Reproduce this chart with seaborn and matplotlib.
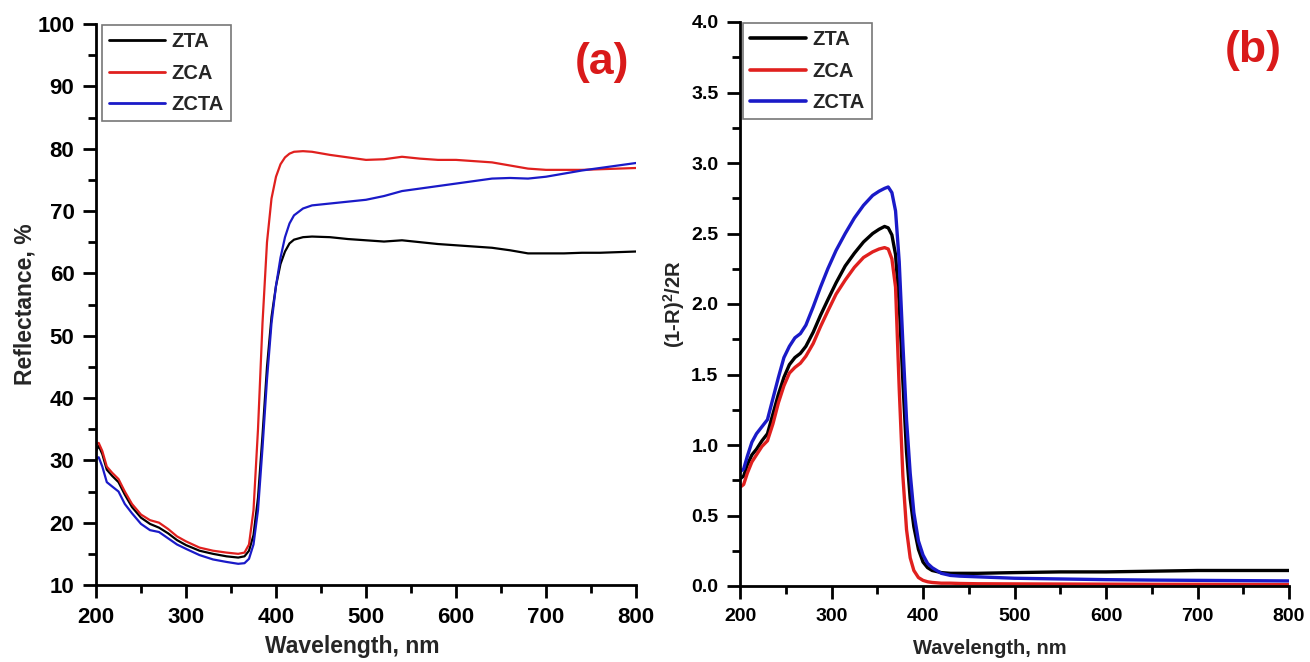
import numpy as np
import pandas as pd
import matplotlib
matplotlib.use("Agg")
import matplotlib.pyplot as plt
from matplotlib.ticker import MultipleLocator, FormatStrFormatter
import seaborn as sns

# ---------------- data (a) reflectance ----------------
wl_a = [200, 203, 207, 212, 218, 225, 232, 240, 250, 260, 270, 280, 290, 300, 315, 330, 345, 358, 365,
        370, 375, 380, 385, 390, 395, 400, 405, 410, 415, 420, 430, 440, 460, 480, 500, 520, 540, 560,
        580, 600, 620, 640, 660, 680, 700, 720, 740, 760, 780, 800]
zta_a = [31.5, 32.3, 31.0, 28.5, 27.5, 26.5, 24.5, 22.5, 20.8, 19.8, 19.2, 18.3, 17.2, 16.4, 15.5, 15.0,
         14.6, 14.4, 14.6, 15.5, 18.0, 24.0, 34.0, 45.0, 53.0, 58.0, 61.5, 63.5, 64.8, 65.4, 65.8, 65.9,
         65.8, 65.5, 65.3, 65.1, 65.3, 65.0, 64.7, 64.5, 64.3, 64.1, 63.7, 63.2, 63.2, 63.2, 63.3, 63.3,
         63.4, 63.5]
zca_a = [32.5, 32.8, 31.5, 29.0, 28.0, 27.0, 25.0, 23.0, 21.3, 20.4, 20.0, 19.0, 17.8, 17.0, 16.0, 15.5,
         15.2, 15.0, 15.2, 16.5, 22.0, 35.0, 52.0, 65.0, 72.0, 75.5, 77.5, 78.6, 79.2, 79.5, 79.6, 79.5,
         79.0, 78.6, 78.2, 78.3, 78.7, 78.4, 78.2, 78.2, 78.0, 77.8, 77.3, 76.8, 76.6, 76.6, 76.6, 76.7,
         76.8, 76.9]
zcta_a = [30.2, 30.5, 29.0, 26.5, 25.8, 25.0, 23.0, 21.5, 19.8, 18.8, 18.5, 17.5, 16.5, 15.8, 14.8, 14.1,
          13.7, 13.4, 13.5, 14.2, 16.5, 22.0, 32.0, 43.0, 52.0, 58.0, 62.5, 65.8, 68.0, 69.3, 70.4, 70.9,
          71.2, 71.5, 71.8, 72.4, 73.2, 73.6, 74.0, 74.4, 74.8, 75.2, 75.3, 75.2, 75.5, 76.0, 76.5, 76.9,
          77.3, 77.7]

# ---------------- data (b) Kubelka-Munk ----------------
wl_b = [200, 204, 208, 213, 218, 224, 230, 236, 242, 248, 254, 260, 266, 272, 280, 288, 296, 305, 315,
        325, 335, 345, 352, 358, 362, 366, 370, 374, 378, 382, 386, 390, 395, 400, 405, 410, 420, 430,
        440, 460, 500, 550, 600, 650, 700, 750, 800]
zta_b = [0.76, 0.78, 0.86, 0.93, 0.97, 1.03, 1.08, 1.22, 1.36, 1.48, 1.57, 1.62, 1.65, 1.70, 1.80, 1.92,
         2.03, 2.15, 2.27, 2.36, 2.44, 2.50, 2.53, 2.55, 2.54, 2.49, 2.35, 2.00, 1.45, 0.95, 0.62, 0.42,
         0.26, 0.17, 0.13, 0.11, 0.095, 0.09, 0.09, 0.09, 0.095, 0.10, 0.10, 0.105, 0.11, 0.11, 0.11]
zca_b = [0.70, 0.72, 0.80, 0.88, 0.93, 0.99, 1.03, 1.15, 1.30, 1.42, 1.51, 1.55, 1.58, 1.63, 1.72, 1.84,
         1.95, 2.07, 2.17, 2.26, 2.33, 2.37, 2.39, 2.40, 2.39, 2.32, 2.12, 1.40, 0.78, 0.40, 0.20, 0.11,
         0.06, 0.04, 0.03, 0.025, 0.02, 0.02, 0.018, 0.016, 0.015, 0.014, 0.013, 0.012, 0.012, 0.011, 0.01]
zcta_b = [0.81, 0.83, 0.92, 1.02, 1.08, 1.13, 1.18, 1.33, 1.48, 1.62, 1.70, 1.76, 1.79, 1.85, 1.98, 2.12,
          2.25, 2.38, 2.50, 2.61, 2.70, 2.77, 2.80, 2.82, 2.83, 2.79, 2.66, 2.30, 1.72, 1.18, 0.80, 0.52,
          0.32, 0.22, 0.16, 0.13, 0.09, 0.075, 0.07, 0.065, 0.055, 0.05, 0.045, 0.042, 0.04, 0.038, 0.036]

series_names = ["ZTA", "ZCA", "ZCTA"]
x_ticks = [200, 300, 400, 500, 600, 700, 800]

# ---------------- style ----------------
sns.set_style("ticks")
plt.rcParams["font.family"] = ["Liberation Sans", "DejaVu Sans"]
plt.rcParams["font.weight"] = "bold"
plt.rcParams["mathtext.fontset"] = "custom"
plt.rcParams["mathtext.rm"] = "Liberation Sans:bold"
plt.rcParams["mathtext.bf"] = "Liberation Sans:bold"
plt.rcParams["mathtext.it"] = "Liberation Sans:bold"

palette = {"ZTA": "#000000", "ZCA": "#e0201e", "ZCTA": "#1a1ac8"}

fig = plt.figure(figsize=(13.1, 6.62), dpi=100)
ax1 = fig.add_axes([96 / 1310, 77 / 662, 540 / 1310, 561 / 662])
ax2 = fig.add_axes([740 / 1310, 76 / 662, 549 / 1310, 564 / 662])

def long_df(wl, arrays):
    frames = []
    for name, arr in zip(series_names, arrays):
        frames.append(pd.DataFrame({"wl": wl, "val": arr, "sample": name}))
    return pd.concat(frames, ignore_index=True)

df_a = long_df(wl_a, [zta_a, zca_a, zcta_a])
df_b = long_df(wl_b, [zta_b, zca_b, zcta_b])

sns.lineplot(data=df_a, x="wl", y="val", hue="sample", hue_order=series_names,
             palette=palette, linewidth=1.6, ax=ax1, sort=False)
sns.lineplot(data=df_b, x="wl", y="val", hue="sample", hue_order=series_names,
             palette=palette, linewidth=2.4, ax=ax2, sort=False)

def style_axis(ax, ylim, ymaj, ymin, ylabel, tag, tagpos, leg_lw, leg_anchor,
               tick_fs, label_fs, xlabel_xy, ylabel_pad):
    ax.set_xlim(200, 800)
    ax.set_ylim(*ylim)
    ax.set_xticks(x_ticks)
    ax.xaxis.set_minor_locator(MultipleLocator(50))
    ax.yaxis.set_major_locator(MultipleLocator(ymaj))
    ax.yaxis.set_minor_locator(MultipleLocator(ymin))
    for s in ["top", "right"]:
        ax.spines[s].set_visible(False)
    for s in ["left", "bottom"]:
        ax.spines[s].set_linewidth(2.0)
        ax.spines[s].set_color("black")
    ax.tick_params(which="major", direction="out", length=9.5, width=2, labelsize=tick_fs,
                   colors="black", pad=6)
    ax.tick_params(which="minor", direction="out", length=5.5, width=2, colors="black")
    for lab in ax.get_xticklabels() + ax.get_yticklabels():
        lab.set_fontweight("bold")
    ax.set_xlabel("Wavelength, nm", fontsize=label_fs, fontweight="bold")
    ax.xaxis.set_label_coords(*xlabel_xy)
    ax.set_ylabel(ylabel, fontsize=label_fs, fontweight="bold", labelpad=ylabel_pad)
    leg = ax.legend(loc="upper left", bbox_to_anchor=leg_anchor, borderaxespad=0,
                    fancybox=False, frameon=True, prop={"size": 14.5, "weight": "bold"},
                    handlelength=2.8, handletextpad=0.3, labelspacing=0.62, borderpad=0.35,
                    title=None)
    leg.get_frame().set_edgecolor("#555555")
    leg.get_frame().set_linewidth(1.2)
    for line in leg.get_lines():
        line.set_linewidth(leg_lw)
    ax.text(tagpos[0], tagpos[1], tag, transform=ax.transAxes, ha="center", va="center",
            fontsize=32, fontweight="bold", color="#d91a1a")

style_axis(ax1, (10, 100), 10, 5, "Reflectance, %", "(a)", (0.937, 0.932), 2.0,
           (0.011, 0.998), 16, 16.5, (0.474, -0.090), 0.5)
style_axis(ax2, (0, 4.0), 0.5, 0.25, r"(1-R)$^{2}$/2R", "(b)", (0.934, 0.949), 2.6,
           (0.0055, 0.998), 14, 14.5, (0.455, -0.094), 3)
ax2.yaxis.set_major_formatter(FormatStrFormatter("%.1f"))

fig.savefig("out.png", dpi=100, facecolor="white")
